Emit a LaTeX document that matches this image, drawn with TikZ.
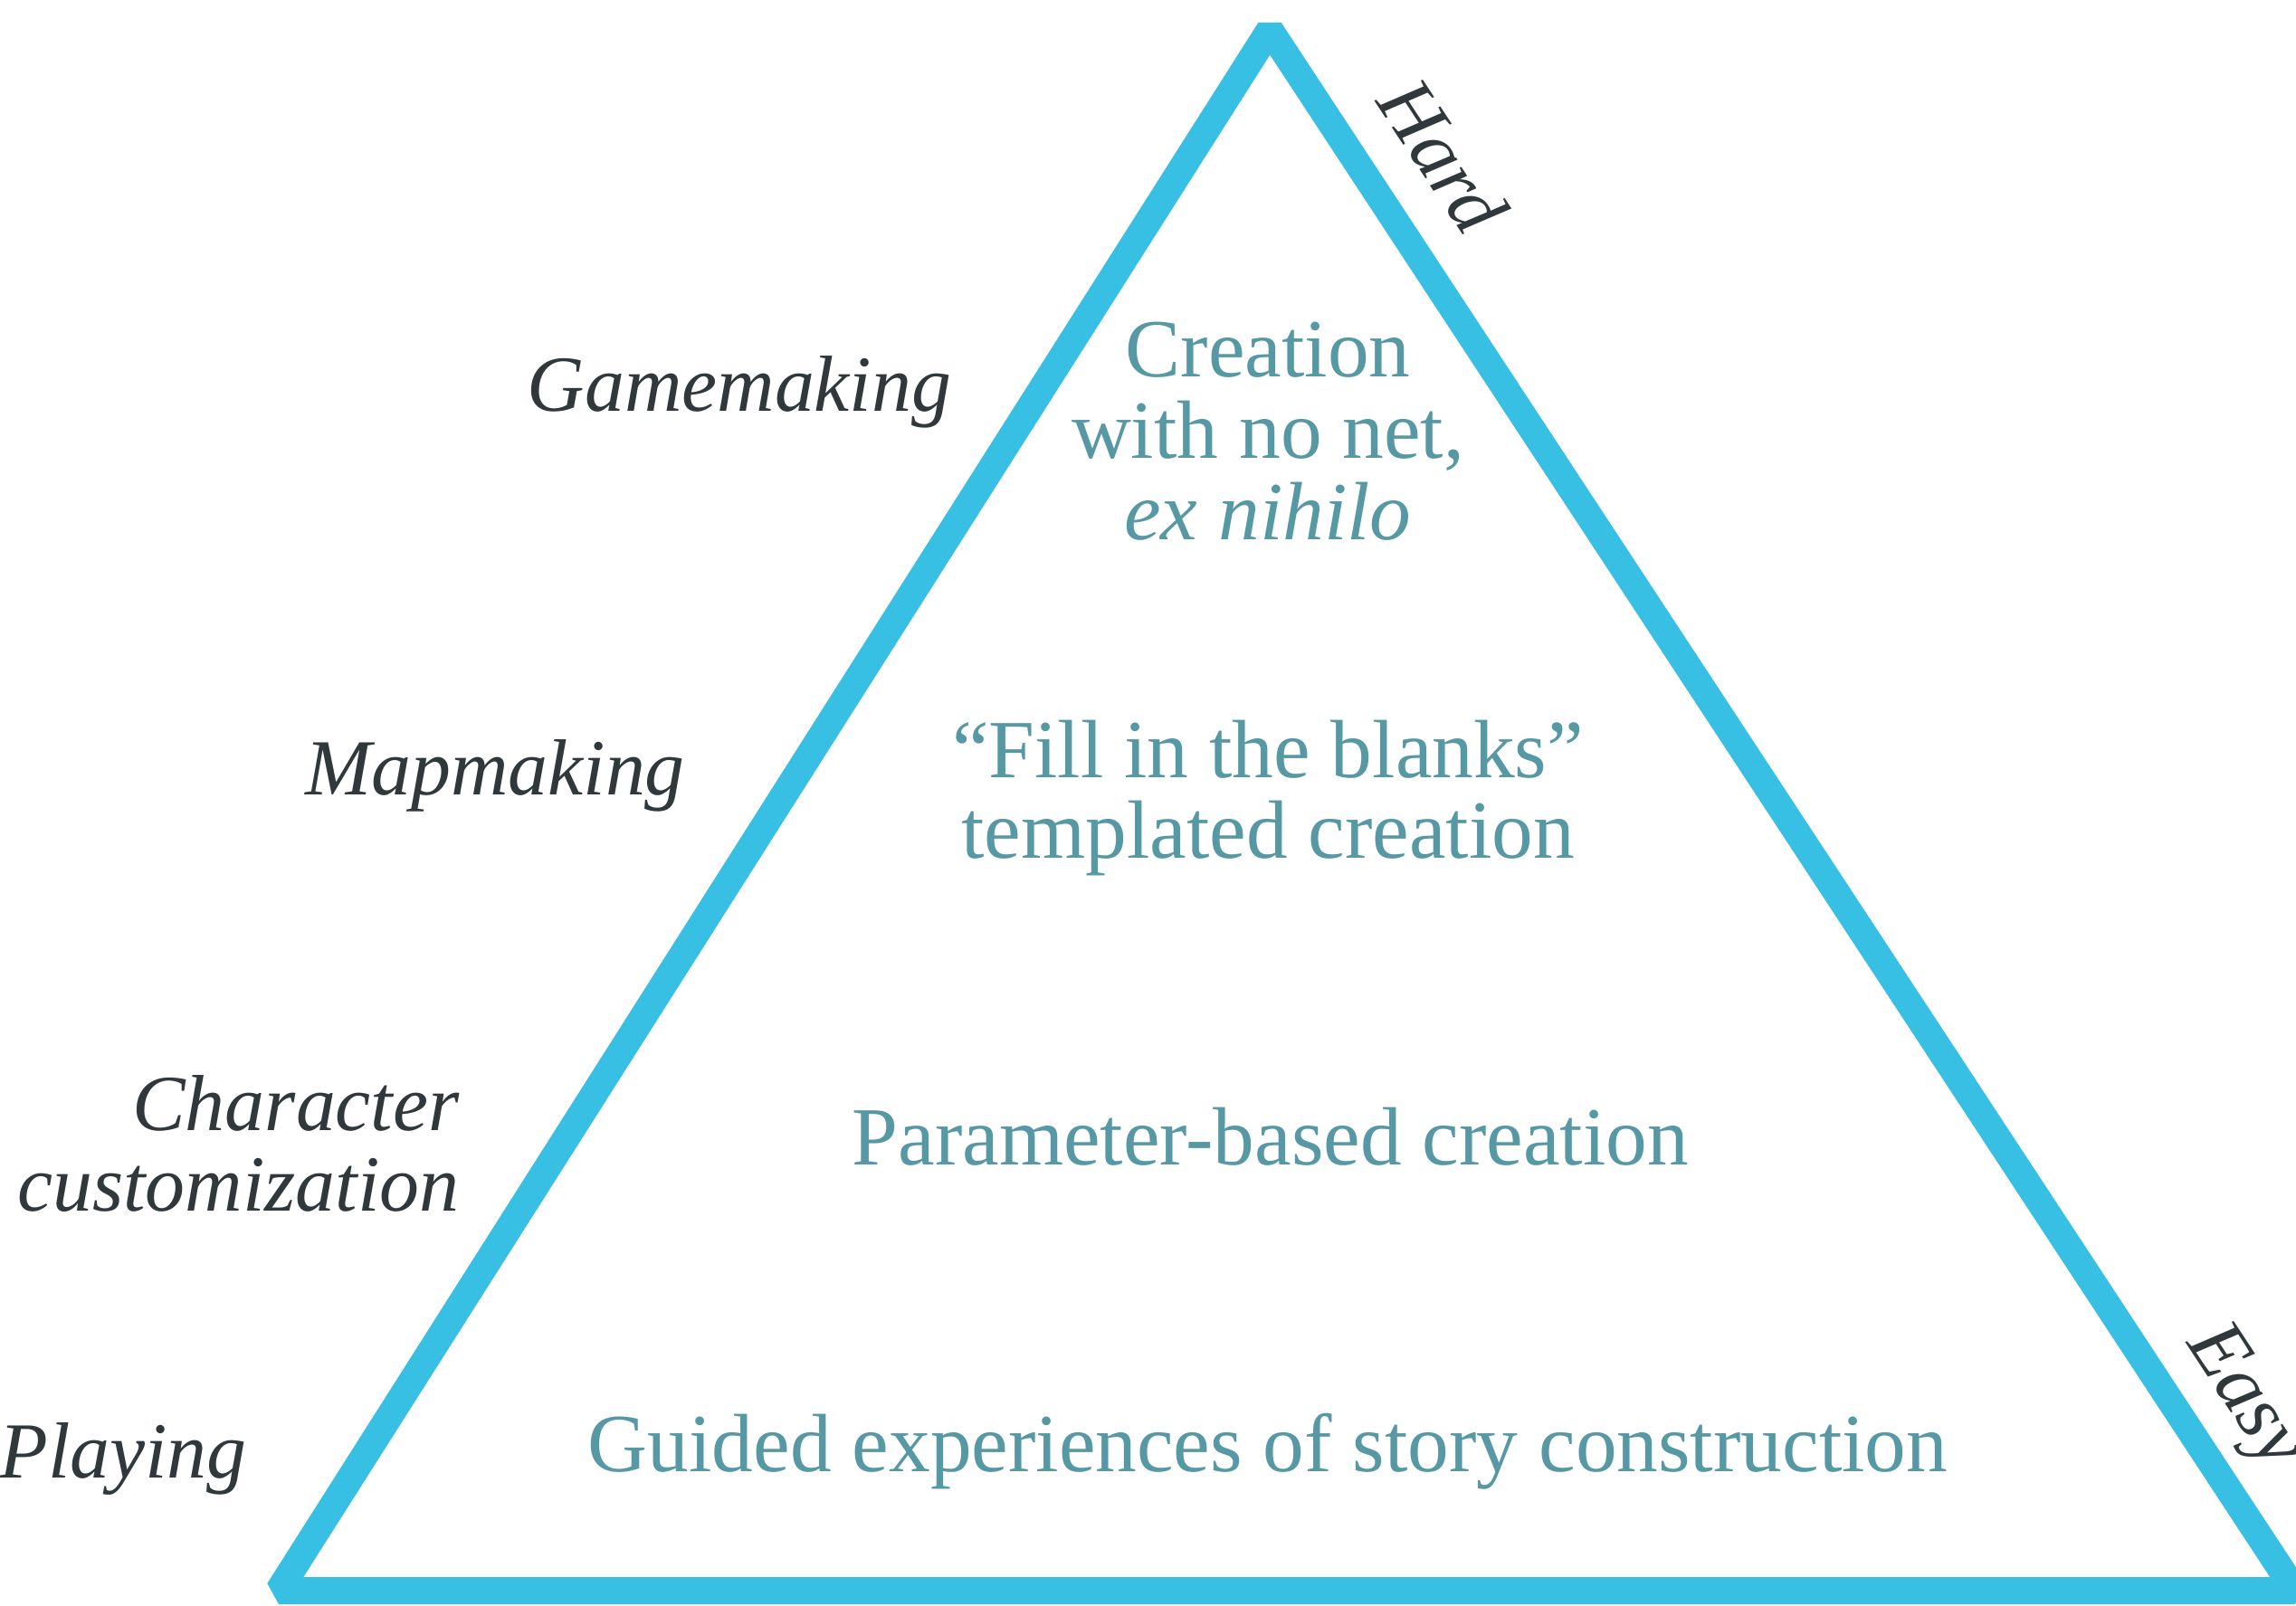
\documentclass[tikz,border=0pt]{standalone}
\usepackage{fontspec}
\setmainfont{Liberation Serif}

\definecolor{pyramid}{RGB}{56,192,228}
\definecolor{stagetext}{RGB}{86,152,164}
\definecolor{labeltext}{RGB}{48,56,60}

\begin{document}
\begin{tikzpicture}[
    stage/.style={text=stagetext, font=\fontsize{26}{25.6}\selectfont, align=center},
    side/.style={text=labeltext, font=\fontsize{25}{25.6}\selectfont\itshape},
    slope/.style={side, rotate=-56.7}]

    \useasboundingbox (0,0) rectangle (25.37,-17.74);

    % corners of the pyramid
    \coordinate (top) at (14.03,-0.33);
    \coordinate (left) at (3.08,-17.58);
    \coordinate (right) at (25.36,-17.58);

    \draw[pyramid, line width=0.3cm, line join=bevel] (top) -- (left) -- (right) -- cycle;

    % stages inside
    \node[stage] (nihilo) at (14.01,-4.77) {Creation\\with no net,\\\textit{ex nihilo}};
    \node[stage] (blanks) at (14.01,-8.82) {“Fill in the blanks”\\templated creation};
    \node[stage] (param) at (14.04,-12.56) {Parameter-based creation};
    \node[stage] (guided) at (14.01,-16.04) {Guided experiences of story construction};

    % activities on the left
    \node[side] (game) at (8.17,-4.33) {Gamemaking};
    \node[side] (map) at (5.47,-8.57) {Mapmaking};
    \node[side, align=right, anchor=east] (char) at (5.2,-12.64) {Character\\customization};
    \node[side] (play) at (1.36,-16.12) {Playing};

    % difficulty along the right side
    \node[slope] (hard) at (15.95,-1.72) {Hard};
    \node[slope] (easy) at (24.78,-15.45) {Easy};

\end{tikzpicture}
\end{document}
